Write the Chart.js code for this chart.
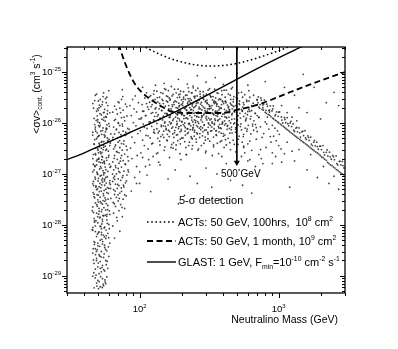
<!DOCTYPE html>
<html>
<head>
<meta charset="utf-8">
<script src="https://cdn.jsdelivr.net/npm/chart.js@4.4.1/dist/chart.umd.min.js"></script>
<style>
  html, body { margin: 0; padding: 0; background: #fff; }
</style>
</head>
<body>
<canvas id="chart" width="398" height="349"></canvas>
<script>
// ---- axis ranges and tick decades ----
const massRange = [30, 3000];          // GeV
const sigmaRange = [4.6e-30, 3.1e-25]; // cm^3 s^-1
const xTickDecades = [2, 3];
const yTickDecades = [-29, -28, -27, -26, -25];

// ---- sensitivity curves ----
const glastMass  = [30, 40, 85, 179, 336, 735, 1480];
const glastSigma = [1.9e-27, 2.6e-27, 6.5e-27, 1.64e-26, 4.05e-26, 1.25e-25, 3.2e-25];

const actMonthMass  = [70.5, 72, 78, 87.5, 96.7, 114, 144, 173, 230, 378, 502, 735, 1172, 2060, 3000];
const actMonthSigma = [3.5e-25, 2.96e-25, 1.57e-25, 7.6e-26, 4.9e-26, 3.2e-26, 2.1e-26, 1.64e-26,
                       1.57e-26, 1.57e-26, 1.8e-26, 2.36e-26, 3.9e-26, 7.0e-26, 1.0e-25];

const act100Mass  = [104, 112, 144, 179, 258, 320, 425, 554, 735, 944, 1172, 1300];
const act100Sigma = [3.4e-25, 3.0e-25, 2.15e-25, 1.72e-25, 1.37e-25, 1.31e-25, 1.37e-25,
                     1.57e-25, 1.97e-25, 2.47e-25, 3.1e-25, 3.6e-25];

// 500 GeV marker arrow
const arrowMass  = [500, 500];
const arrowSigma = [3.5e-25, 1.68e-27];

// ---- scan points [mass GeV, <sigma v> cm^3/s], estimated from the scatter ----
const lowMassBand = [
  [47,5.8e-30],[52,6.1e-30],[55,6.4e-30],[49,7.2e-30],[57,7.0e-30],[50,8.1e-30],[54,8.8e-30],[58,9.5e-30],
  [46,9.9e-30],[51,1.1e-29],[53,1.2e-29],[56,1.25e-29],[48,1.35e-29],[59,1.4e-29],[50,1.5e-29],[54,1.6e-29],
  [47,1.75e-29],[52,1.9e-29],[57,2.0e-29],[49,2.2e-29],[55,2.3e-29],[60,2.4e-29],[51,2.6e-29],[46,2.8e-29],
  [53,3.0e-29],[58,3.1e-29],[48,3.4e-29],[56,3.6e-29],[50,3.9e-29],[54,4.2e-29],[61,4.4e-29],[47,4.7e-29],
  [52,5.0e-29],[57,5.4e-29],[49,5.9e-29],[55,6.3e-29],[59,6.8e-29],[51,7.3e-29],[46,7.8e-29],[53,8.4e-29],
  [56,9.0e-29],[48,9.6e-29],[60,1.02e-28],[50,1.1e-28],[54,1.17e-28],[58,1.25e-28],[47,1.33e-28],[52,1.42e-28],
  [55,1.5e-28],[61,1.6e-28],[49,1.7e-28],[53,1.82e-28],[57,1.95e-28],[51,2.1e-28],[46,2.25e-28],[59,2.4e-28],
  [54,2.55e-28],[48,2.7e-28],[56,2.9e-28],[50,3.1e-28],[62,3.3e-28],[52,3.5e-28],[55,3.75e-28],[47,4.0e-28],
  [58,4.3e-28],[53,4.6e-28],[49,4.9e-28],[60,5.2e-28],[51,5.6e-28],[56,6.0e-28],[46,6.4e-28],[54,6.9e-28],
  [61,7.4e-28],[48,7.9e-28],[57,8.5e-28],[52,9.1e-28],[50,9.8e-28],[55,1.05e-27],[59,1.12e-27],[47,1.2e-27],
  [53,1.3e-27],[62,1.4e-27],[49,1.5e-27],[56,1.6e-27],[51,1.72e-27],[58,1.85e-27],[46,2.0e-27],[54,2.15e-27],
  [60,2.3e-27],[48,2.5e-27],[52,2.7e-27],[57,2.9e-27],[50,3.1e-27],[55,3.35e-27],[61,3.6e-27],[47,3.9e-27],
  [53,4.2e-27],[59,4.5e-27],[49,4.9e-27],[56,5.3e-27],[51,5.7e-27],[62,6.1e-27],[46,6.6e-27],[54,7.1e-27],
  [58,7.7e-27],[48,8.3e-27],[52,9.0e-27],[60,9.7e-27],[50,1.05e-26],[55,1.14e-26],[47,1.23e-26],[57,1.33e-26],
  [53,1.45e-26],[61,1.58e-26],[49,1.7e-26],[56,1.85e-26],[51,2.0e-26],[59,2.2e-26],[46,2.4e-26],[54,2.6e-26],
  [52,2.9e-26],[58,3.2e-26],[48,3.5e-26],[55,3.9e-26],[60,4.3e-26],
  [50.5,5.6e-30],[56.5,7.6e-30],[48.5,1.03e-29],[53.5,1.45e-29],[57.5,1.65e-29],[46.5,2.05e-29],[51.5,2.45e-29],
  [55.5,2.7e-29],[49.5,3.25e-29],[59.5,3.7e-29],[47.5,4.5e-29],[53.5,5.2e-29],[57.5,6.1e-29],[50.5,7.0e-29],
  [45.5,8.1e-29],[55.5,8.7e-29],[52.5,9.3e-29],[58.5,1.07e-28],[48.5,1.21e-28],[51.5,1.37e-28],[56.5,1.55e-28],
  [46.5,1.75e-28],[60.5,1.88e-28],[53.5,2.0e-28],[49.5,2.32e-28],[57.5,2.62e-28],[54.5,3.0e-28],[47.5,3.4e-28],
  [50.5,3.85e-28],[59.5,4.15e-28],[55.5,4.75e-28],[52.5,5.4e-28],[48.5,5.8e-28],[61.5,6.2e-28],[57.5,6.6e-28],
  [46.5,7.1e-28],[53.5,7.6e-28],[50.5,8.2e-28],[58.5,8.8e-28],[49.5,1.0e-27],[54.5,1.16e-27],[51.5,1.25e-27],
  [56.5,1.36e-27],[47.5,1.45e-27],[60.5,1.55e-27],[52.5,1.66e-27],[55.5,1.78e-27],[49.5,1.92e-27],[57.5,2.07e-27],
  [53.5,2.22e-27],[46.5,2.4e-27],[50.5,2.6e-27],[59.5,2.8e-27],[54.5,3.0e-27],[48.5,3.25e-27],[56.5,3.5e-27],
  [51.5,3.75e-27],[61.5,4.05e-27],[53.5,4.35e-27],[47.5,4.7e-27],[58.5,5.1e-27],[50.5,5.5e-27],[55.5,5.9e-27],
  [49.5,6.4e-27],[52.5,6.9e-27],[57.5,7.4e-27],[54.5,8.0e-27],[60.5,8.6e-27],[47.5,9.3e-27],[51.5,1.0e-26],
  [56.5,1.09e-26],[53.5,1.19e-26],[49.5,1.38e-26],[58.5,1.5e-26],[55.5,1.62e-26],[50.5,1.77e-26],[52.5,2.1e-26],
  [57.5,2.5e-26],[47.5,2.75e-26],[54.5,3.3e-26],
  [49.2,6.3e-30],[53.8,5.9e-30],[51.1,7.7e-30],[56.2,8.3e-30],[47.9,9.1e-30],[54.6,6.9e-30],[52.4,9.6e-30],
  [46.8,1.15e-29],[55.1,1.32e-29],[50.3,1.78e-29],[58.4,1.93e-29],[48.1,2.6e-29],[52.7,2.35e-29],[56.9,3.3e-29],
  [51.6,3.8e-29],[47.2,4.1e-29],[54.2,4.7e-29],[59.8,5.6e-29],[49.6,6.6e-29],[53.1,7.1e-29],[57.3,7.9e-29],
  [46.1,8.9e-29],[51.9,9.4e-29],[55.7,5.8e-29],[48.8,3.0e-29],[60.4,8.4e-29],[50.1,4.4e-29],
  [47.4,1.13e-28],[53.9,1.28e-28],[57.9,1.47e-28],[50.8,1.62e-28],[45.6,1.9e-28],[55.3,2.18e-28],[49.1,2.5e-28],
  [52.1,2.85e-28],[59.2,3.2e-28],[46.9,3.6e-28],[54.8,4.1e-28],[51.3,4.5e-28],[57.1,5.0e-28],[48.4,5.5e-28],
  [53.3,6.1e-28],[60.8,6.7e-28],[50.2,7.3e-28],[55.9,7.9e-28],[47.7,8.6e-28],[52.9,9.4e-28],[58.8,2.0e-28],
  [46.2,4.3e-28],[56.3,3.4e-28],[49.9,1.45e-28],[61.7,5.2e-28],[51.7,6.5e-28],[54.1,8.2e-28],
  [49.3,1.08e-27],[57.2,1.21e-27],[52.3,1.39e-27],[46.4,1.55e-27],[55.6,1.71e-27],[50.7,1.95e-27],[59.6,2.12e-27],
  [48.2,2.38e-27],[53.6,2.66e-27],[57.8,3.05e-27],[51.2,3.4e-27],[47.1,3.8e-27],[55.2,4.3e-27],[60.2,4.8e-27],
  [49.8,5.3e-27],[53.2,6.0e-27],[56.7,6.7e-27],[47.9,7.6e-27],[51.4,8.4e-27],[58.1,9.2e-27],[54.3,1.65e-27],
  [50.1,2.9e-27],[61.1,1.35e-27],[45.9,5.8e-27],
  [48.7,1.12e-26],[55.4,1.29e-26],[51.8,1.52e-26],[58.7,1.74e-26],[46.6,1.95e-26],[53.7,2.3e-26],[50.4,2.7e-26],
  [56.8,3.0e-26],[49.0,3.7e-26],
  [47.3,1.2e-28],[52.8,2.7e-28],[49.7,5.1e-28],[56.1,1.05e-27],[50.9,2.05e-27],[54.7,3.7e-27],[48.3,6.9e-27],
  [57.6,1.3e-26],[51.3,2.25e-26],[46.3,3.4e-29],[53.2,6.4e-29],[58.2,1.6e-28],[49.4,3.9e-28],[55.8,7.3e-28],
  [47.8,1.4e-27],[52.6,2.5e-27],[59.1,4.4e-27],[50.6,8.9e-27],[54.9,1.6e-26],[48.9,2.0e-29],[53.4,1.04e-28],
  [51.0,1.85e-28],[57.0,3.1e-28],[46.7,5.9e-28],[55.0,9.6e-28],[49.0,1.8e-27],[53.0,3.2e-27],[56.4,5.6e-27],
  [50.0,1.16e-26],[52.0,1.4e-29],[55.9,4.0e-29],[48.0,7.4e-29],[54.4,1.53e-28],[50.4,2.8e-28],[58.6,5.4e-28],
  [46.0,1.1e-27],[53.4,1.9e-27],[51.0,4.0e-27],[57.4,7.9e-27],[49.7,1.9e-26]
];

const secondBand = [
  [66,5.5e-29],[72,7.5e-29],[64,9.5e-29],[69,1.2e-28],[75,1.45e-28],[65,1.7e-28],[71,1.9e-28],[78,2.1e-28],
  [67,2.3e-28],[73,2.5e-28],[64.5,2.75e-28],[70,2.95e-28],[76,3.2e-28],[68,3.45e-28],[80,3.7e-28],[66,3.95e-28],
  [72,4.2e-28],[74,4.55e-28],[65,4.9e-28],[69,5.2e-28],[77,5.55e-28],[71,5.9e-28],[67,6.3e-28],[79,6.7e-28],
  [64,7.1e-28],[73,7.5e-28],[70,8.0e-28],[75,8.5e-28],[66,9.0e-28],[81,9.5e-28],[68,1.0e-27],[72,1.07e-27],
  [77,1.13e-27],[65,1.2e-27],[70,1.28e-27],[74,1.36e-27],[67,1.45e-27],[79,1.53e-27],[71,1.62e-27],[64,1.72e-27],
  [76,1.82e-27],[69,1.93e-27],[73,2.05e-27],[82,2.18e-27],[66,2.3e-27],[78,2.45e-27],[71,2.6e-27],[68,2.75e-27],
  [75,2.92e-27],[65,3.1e-27],[72,3.3e-27],[80,3.5e-27],[67,3.7e-27],[74,3.95e-27],[70,4.2e-27],[77,4.45e-27],
  [64,4.7e-27],[69,5.0e-27],[73,5.35e-27],[79,5.7e-27],[66,6.1e-27],[71,6.5e-27],[76,6.9e-27],[68,7.35e-27],
  [82,7.8e-27],[65,8.3e-27],[72,8.9e-27],[75,9.5e-27],[70,1.02e-26],[78,1.1e-26],[67,1.18e-26],[74,1.27e-26],
  [81,1.37e-26],[69,1.5e-26],[64,1.63e-26],[76,1.78e-26],[72,1.95e-26],[66,2.15e-26],[79,2.35e-26],[70,2.6e-26],
  [74,2.9e-26],
  [68.4,1.4e-28],[74.6,2.2e-28],[65.8,2.6e-28],[71.3,3.3e-28],[77.9,3.9e-28],[66.7,4.6e-28],[73.8,5.3e-28],
  [69.5,6.2e-28],[80.3,7.3e-28],[64.9,8.4e-28],[75.9,9.3e-28],[70.8,1.12e-27],[67.3,1.33e-27],[78.6,1.57e-27],
  [72.6,1.78e-27],[65.4,2.02e-27],[74.1,2.3e-27],[69.1,2.68e-27],[81.2,2.95e-27],[66.3,3.4e-27],[76.8,3.85e-27],
  [71.7,4.5e-27],[64.2,5.2e-27],[73.2,5.9e-27],[79.4,6.6e-27],[68.1,7.6e-27],[75.3,8.7e-27],[70.4,9.8e-27],
  [65.7,1.12e-26],[77.2,1.3e-26],[72.9,1.6e-26],[67.8,1.85e-26],[80.8,2.1e-26],[71.1,2.5e-26],[75.6,3.3e-26],
  [63.8,1.0e-27],[82.5,1.2e-27],[69.9,3.9e-28],[76.4,6.0e-28],[66.1,7.8e-28]
];

const mainCloud = [
  [86,3.2e-27],[92,4.1e-27],[88,5.3e-27],[97,6.2e-27],[84,7.5e-27],[94,8.8e-27],[90,1.02e-26],[99,1.2e-26],
  [87,1.4e-26],[95,1.65e-26],[91,1.9e-26],[85,2.2e-26],[98,2.5e-26],[89,2.9e-26],[93,3.4e-26],[96,2.3e-27],[83,1.8e-27],
  [102,2.6e-27],[115,3.1e-27],[108,3.6e-27],[124,4.0e-27],[105,4.6e-27],[119,5.1e-27],[111,5.7e-27],[128,6.3e-27],
  [101,7.0e-27],[113,7.8e-27],[122,8.6e-27],[106,9.5e-27],[117,1.05e-26],[126,1.15e-26],[103,1.27e-26],[110,1.4e-26],
  [121,1.55e-26],[107,1.7e-26],[129,1.88e-26],[114,2.07e-26],[104,2.3e-26],[118,2.55e-26],[125,2.8e-26],[109,3.1e-26],
  [120,3.45e-26],[112,3.9e-26],[127,4.3e-26],[116,1.9e-27],
  [132,2.5e-27],[150,2.9e-27],[168,3.3e-27],[140,3.7e-27],[175,4.1e-27],[158,4.5e-27],[135,5.0e-27],[163,5.4e-27],
  [146,5.9e-27],[178,6.4e-27],[138,6.9e-27],[155,7.4e-27],[170,7.9e-27],[143,8.5e-27],[160,9.1e-27],[133,9.8e-27],
  [152,1.05e-26],[173,1.12e-26],[141,1.2e-26],[165,1.28e-26],[148,1.36e-26],[136,1.45e-26],[157,1.55e-26],[176,1.65e-26],
  [144,1.76e-26],[162,1.88e-26],[131,2.0e-26],[153,2.13e-26],[171,2.27e-26],[139,2.42e-26],[159,2.58e-26],[147,2.75e-26],
  [166,2.95e-26],[134,3.15e-26],[156,3.4e-26],[174,3.65e-26],[142,3.95e-26],[161,4.3e-26],[151,4.7e-26],[169,5.2e-26],
  [137,1.7e-27],[164,2.1e-27],
  [182,3.0e-27],[215,3.3e-27],[240,3.6e-27],[196,3.9e-27],[228,4.2e-27],[188,4.5e-27],[255,4.8e-27],[205,5.1e-27],
  [234,5.4e-27],[184,5.8e-27],[220,6.2e-27],[248,6.6e-27],[199,7.0e-27],[231,7.4e-27],[190,7.8e-27],[243,8.2e-27],
  [210,8.7e-27],[185,9.2e-27],[225,9.7e-27],[252,1.02e-26],[202,1.08e-26],[237,1.14e-26],[193,1.2e-26],[218,1.26e-26],
  [258,1.33e-26],[208,1.4e-26],[186,1.47e-26],[245,1.55e-26],[226,1.63e-26],[197,1.71e-26],[233,1.8e-26],[212,1.9e-26],
  [183,2.0e-26],[250,2.1e-26],[204,2.2e-26],[239,2.32e-26],[191,2.44e-26],[222,2.57e-26],[256,2.7e-26],[200,2.85e-26],
  [230,3.0e-26],[187,3.15e-26],[246,3.3e-26],[214,3.5e-26],[195,3.7e-26],[236,3.9e-26],[207,4.1e-26],[253,4.35e-26],
  [189,4.6e-26],[224,4.9e-26],[242,5.3e-26],[217,2.4e-27],[198,1.9e-27],
  [265,3.1e-27],[340,3.4e-27],[420,3.7e-27],[290,4.0e-27],[380,4.3e-27],[470,4.6e-27],[310,4.9e-27],[270,5.2e-27],
  [400,5.5e-27],[355,5.9e-27],[445,6.3e-27],[285,6.7e-27],[330,7.1e-27],[490,7.5e-27],[370,8.0e-27],[275,8.5e-27],
  [430,9.0e-27],[315,9.5e-27],[395,1.0e-26],[262,1.06e-26],[350,1.12e-26],[460,1.18e-26],[300,1.25e-26],[410,1.32e-26],
  [280,1.4e-26],[365,1.48e-26],[335,1.56e-26],[480,1.65e-26],[295,1.74e-26],[440,1.84e-26],[385,1.94e-26],[268,2.05e-26],
  [320,2.16e-26],[455,2.28e-26],[345,2.4e-26],[278,2.53e-26],[415,2.67e-26],[305,2.82e-26],[375,2.98e-26],[495,3.15e-26],
  [325,3.3e-26],[288,3.5e-26],[435,3.7e-26],[360,3.9e-26],[272,4.15e-26],[405,4.4e-26],[318,4.7e-26],[465,5.0e-26],
  [298,2.6e-27],[390,2.2e-27],[260,6.1e-27],[345,9.8e-27],[425,1.6e-26],[308,1.9e-26],[475,2.1e-26],[352,2.6e-26],
  [510,3.8e-27],[620,4.4e-27],[760,5.2e-27],[560,6.0e-27],[700,6.8e-27],[850,7.6e-27],[530,8.5e-27],[650,9.5e-27],
  [800,1.05e-26],[580,1.16e-26],[720,1.28e-26],[505,1.4e-26],[680,1.54e-26],[600,1.68e-26],[540,1.84e-26],[770,2.0e-26],
  [640,2.2e-26],[520,2.4e-26],[590,2.65e-26],[700,2.9e-26],[550,3.2e-26],[660,3.5e-26],[515,3.9e-26],[610,4.3e-26],
  [740,3.0e-27],[880,4.2e-27],[570,2.6e-27],[830,1.3e-26],[900,9.0e-27],
  [950,2.2e-27],[1000,3.6e-27],[920,5.5e-27],[980,7.0e-27],[860,1.8e-26]
];

const cloudCore = [
  [133,4.2e-26],[178,4.6e-26],[226,4.1e-26],[262,4.8e-26],[311,4.4e-26],[389,4.3e-26],[457,4.7e-26],[540,4.0e-26],
  [118,3.3e-26],[147,3.8e-26],[163,3.1e-26],[191,3.6e-26],[207,3.2e-26],[238,3.9e-26],[259,3.4e-26],[284,3.1e-26],
  [302,3.7e-26],[337,3.3e-26],[366,3.8e-26],[412,3.2e-26],[448,3.5e-26],[505,3.0e-26],[570,3.6e-26],
  [112,2.4e-26],[129,2.9e-26],[141,2.2e-26],[156,2.7e-26],[172,2.1e-26],[184,2.6e-26],[199,2.3e-26],[213,2.9e-26],
  [229,2.0e-26],[244,2.5e-26],[268,2.8e-26],[281,2.2e-26],[297,2.6e-26],[318,2.1e-26],[344,2.7e-26],[359,2.3e-26],
  [383,2.9e-26],[402,2.4e-26],[436,2.1e-26],[471,2.6e-26],[523,2.3e-26],[588,2.8e-26],[640,2.1e-26],
  [105,1.7e-26],[124,1.6e-26],[138,1.9e-26],[152,1.55e-26],[161,1.8e-26],[176,1.65e-26],[188,1.95e-26],[203,1.5e-26],
  [218,1.75e-26],[236,1.85e-26],[251,1.6e-26],[273,1.9e-26],[292,1.55e-26],[307,1.7e-26],[326,1.95e-26],[349,1.6e-26],
  [372,1.8e-26],[396,1.5e-26],[421,1.75e-26],[463,1.9e-26],[498,1.6e-26],[547,1.7e-26],[610,1.85e-26],[676,1.55e-26],
  [102,1.2e-26],[119,1.05e-26],[134,1.35e-26],[146,1.15e-26],[158,1.45e-26],[169,1.0e-26],[181,1.3e-26],[194,1.1e-26],
  [209,1.4e-26],[222,1.2e-26],[241,1.05e-26],[257,1.35e-26],[276,1.15e-26],[289,1.45e-26],[313,1.25e-26],[331,1.05e-26],
  [354,1.4e-26],[377,1.2e-26],[408,1.1e-26],[439,1.3e-26],[482,1.0e-26],[531,1.25e-26],[596,1.45e-26],[663,1.1e-26],[721,1.3e-26],
  [108,8.2e-27],[127,7.4e-27],[143,9.1e-27],[155,7.8e-27],[167,9.6e-27],[179,7.1e-27],[192,8.5e-27],[206,9.3e-27],
  [219,7.6e-27],[233,8.8e-27],[248,7.2e-27],[266,9.8e-27],[283,8.0e-27],[301,7.3e-27],[322,9.0e-27],[343,7.7e-27],
  [368,8.6e-27],[391,9.5e-27],[426,7.5e-27],[458,8.3e-27],[512,9.2e-27],[574,7.9e-27],[649,8.7e-27],
  [115,5.6e-27],[136,6.4e-27],[149,5.2e-27],[164,6.8e-27],[187,5.9e-27],[201,5.1e-27],[224,6.5e-27],[247,5.5e-27],
  [271,6.2e-27],[296,5.3e-27],[324,6.9e-27],[357,5.7e-27],[386,6.3e-27],[432,5.0e-27],[489,6.6e-27],[556,5.4e-27],[631,6.1e-27],
  [122,3.9e-27],[157,4.6e-27],[183,3.7e-27],[211,4.3e-27],[239,4.9e-27],[278,3.6e-27],[319,4.4e-27],[362,4.0e-27],
  [414,4.7e-27],[479,3.8e-27],[547,4.2e-27],
  [135,2.6e-27],[174,3.2e-27],[216,2.4e-27],[262,2.9e-27],[333,2.3e-27],[405,3.3e-27],[492,2.7e-27],
  [154,4.5e-26],[197,4.2e-26],[243,4.9e-26],[286,4.1e-26],[346,4.6e-26],[420,4.4e-26],
  [126,3.7e-26],[139,3.2e-26],[171,3.4e-26],[183,3.9e-26],[219,3.5e-26],[249,3.1e-26],[272,3.7e-26],[321,3.5e-26],
  [352,3.1e-26],[391,3.6e-26],[476,3.3e-26],[620,3.2e-26],
  [121,2.1e-26],[135,2.6e-26],[148,2.4e-26],[165,2.8e-26],[177,2.3e-26],[192,2.1e-26],[205,2.6e-26],[221,2.4e-26],
  [235,2.8e-26],[254,2.2e-26],[263,2.5e-26],[289,2.9e-26],[306,2.4e-26],[331,2.2e-26],[351,2.5e-26],[371,2.1e-26],
  [393,2.7e-26],[418,2.5e-26],[452,2.9e-26],[489,2.2e-26],[557,2.5e-26],[611,2.7e-26],
  [116,1.85e-26],[131,1.6e-26],[144,1.75e-26],[157,1.5e-26],[168,1.9e-26],[182,1.55e-26],[195,1.7e-26],[210,1.95e-26],
  [226,1.6e-26],[243,1.75e-26],[260,1.55e-26],[280,1.8e-26],[299,1.65e-26],[316,1.9e-26],[338,1.5e-26],[361,1.7e-26],
  [385,1.95e-26],[410,1.6e-26],[444,1.8e-26],[480,1.7e-26],[520,1.9e-26],[575,1.55e-26],[640,1.75e-26],
  [111,1.4e-26],[127,1.1e-26],[140,1.25e-26],[151,1.0e-26],[163,1.3e-26],[175,1.2e-26],[187,1.45e-26],[201,1.05e-26],
  [215,1.25e-26],[230,1.4e-26],[248,1.15e-26],[266,1.3e-26],[283,1.05e-26],[302,1.35e-26],[320,1.15e-26],[342,1.45e-26],
  [365,1.1e-26],[390,1.35e-26],[423,1.25e-26],[460,1.45e-26],[505,1.15e-26],[560,1.35e-26],[625,1.2e-26],[700,1.4e-26],
  [117,9.4e-27],[133,7.7e-27],[148,8.8e-27],[161,7.2e-27],[173,8.4e-27],[186,9.7e-27],[199,7.5e-27],[213,8.1e-27],
  [227,9.4e-27],[241,7.9e-27],[257,8.9e-27],[275,7.4e-27],[292,9.3e-27],[311,8.2e-27],[333,9.9e-27],[356,7.1e-27],
  [380,8.0e-27],[408,9.1e-27],[442,7.8e-27],[475,9.6e-27],[540,7.3e-27],[605,9.0e-27],[690,8.1e-27],
  [126,6.6e-27],[142,5.4e-27],[158,6.0e-27],[176,5.2e-27],[195,6.7e-27],[213,5.8e-27],[236,5.1e-27],[258,6.4e-27],
  [283,5.6e-27],[310,6.1e-27],[340,5.3e-27],[372,6.7e-27],[410,5.8e-27],[462,6.4e-27],[520,5.5e-27],[590,6.9e-27],
  [139,4.4e-27],[170,3.8e-27],[196,4.8e-27],[225,3.6e-27],[256,4.2e-27],[297,4.6e-27],[340,3.7e-27],[388,4.5e-27],
  [445,4.1e-27],[512,4.8e-27],[600,3.9e-27],
  [152,3.4e-27],[195,2.5e-27],[238,3.1e-27],[300,2.8e-27],[370,2.5e-27],[450,3.0e-27],[560,3.3e-27]
];

// densest part of the cloud, a further pass
const cloudDense = [
  [123,2.3e-26],[137,1.15e-26],[145,2.9e-26],[153,8.6e-27],[162,2.2e-26],[166,1.4e-26],[173,6.1e-27],[180,2.7e-26],
  [185,1.08e-26],[190,1.7e-26],[194,3.2e-26],[198,8.9e-27],[203,2.4e-26],[208,1.22e-26],[212,6.9e-27],[216,2.05e-26],
  [220,1.5e-26],[223,3.0e-26],[228,9.8e-27],[232,2.5e-26],[237,1.28e-26],[240,7.3e-27],[245,2.0e-26],[250,3.35e-26],
  [253,1.1e-26],[258,2.6e-26],[264,1.65e-26],[269,7.9e-27],[274,2.35e-26],[279,1.27e-26],[285,3.1e-26],[290,9.0e-27],
  [294,1.95e-26],[299,2.7e-26],[304,1.15e-26],[309,6.6e-27],[314,2.3e-26],[319,1.55e-26],[325,3.25e-26],[330,8.3e-27],
  [336,1.8e-26],[341,2.55e-26],[347,1.2e-26],[353,7.0e-27],[358,2.15e-26],[363,1.35e-26],[370,2.85e-26],[376,9.4e-27],
  [382,1.6e-26],[388,2.3e-26],[394,1.05e-26],[400,6.2e-27],[407,1.85e-26],[413,2.65e-26],[419,1.3e-26],[427,8.6e-27],
  [434,2.0e-26],[441,1.1e-26],[449,2.45e-26],[456,7.4e-27],[464,1.55e-26],[472,2.9e-26],[481,1.2e-26],[490,8.1e-27],
  [500,2.1e-26],[510,1.4e-26],[522,2.7e-26],[535,9.6e-27],[548,1.75e-26],[562,2.3e-26],[578,1.1e-26],[594,7.6e-27],
  [612,2.0e-26],[632,1.35e-26],[655,2.45e-26],[680,9.3e-27],
  [128,1.35e-26],[142,2.1e-26],[149,6.9e-27],[159,3.3e-26],[164,1.05e-26],[170,1.75e-26],[176,2.55e-26],[182,8.2e-27],
  [188,1.25e-26],[193,2.2e-26],[200,1.45e-26],[206,2.95e-26],[211,1.0e-26],[217,1.8e-26],[222,7.7e-27],[227,2.7e-26],
  [234,1.6e-26],[239,2.15e-26],[244,9.2e-27],[249,1.4e-26],[256,2.4e-26],[261,8.4e-27],[267,1.9e-26],[273,3.3e-26],
  [281,1.35e-26],[287,2.05e-26],[293,7.2e-27],[300,1.6e-26],[306,2.5e-26],[312,1.0e-26],[318,1.9e-26],[327,1.2e-26],
  [334,2.85e-26],[344,9.3e-27],[350,1.7e-26],[359,2.4e-26],[367,1.15e-26],[378,1.95e-26],[386,7.8e-27],[397,2.6e-26],
  [406,1.5e-26],[416,9.7e-27],[428,2.25e-26],[438,1.6e-26],[451,1.0e-26],[466,2.2e-26],[484,1.75e-26],[503,9.2e-27],
  [526,1.55e-26],[552,2.05e-26],[585,1.25e-26],[620,1.7e-26]
];

// sharp lower edge of the high-mass band
const diagonalEdge = [
  [720,2.05e-26],[760,1.85e-26],[800,1.62e-26],[840,1.47e-26],[880,1.33e-26],[920,1.2e-26],[960,1.1e-26],[1000,1.0e-26],
  [1050,9.0e-27],[1100,8.2e-27],[1150,7.4e-27],[1200,6.7e-27],[1260,6.1e-27],[1320,5.5e-27],[1380,5.0e-27],[1450,4.5e-27],
  [1520,4.1e-27],[1600,3.7e-27],[1680,3.3e-27],[1760,3.0e-27],[1850,2.7e-27],[1940,2.45e-27],[2040,2.15e-27],[2140,1.95e-27],
  [2250,1.68e-27],[2360,1.5e-27],[2480,1.36e-27],[2600,1.22e-27],[2730,1.1e-27],[2860,1.0e-27],
  [730,1.95e-26],[775,1.78e-26],[815,1.55e-26],[860,1.42e-26],[905,1.25e-26],[945,1.14e-26],[985,1.05e-26],[1030,9.5e-27],
  [1080,8.6e-27],[1125,7.8e-27],[1180,7.1e-27],[1230,6.4e-27],[1290,5.8e-27],[1350,5.25e-27],[1420,4.75e-27],[1490,4.3e-27],
  [1560,3.9e-27],[1640,3.5e-27],[1720,3.15e-27],[1800,2.85e-27],[1900,2.58e-27],[1990,2.3e-27],[2090,2.08e-27],[2200,1.85e-27],
  [2300,1.6e-27],[2420,1.45e-27],[2540,1.3e-27],[2670,1.17e-27],[2800,1.05e-27],[2930,9.7e-28]
];

// diffuse upper part of the high-mass band
const diagonalSpread = [
  [700,2.8e-26],[715,3.25e-26],[735,2.3e-26],[750,2.8e-26],[770,2.25e-26],[790,2.8e-26],[810,1.76e-26],[830,2.13e-26],
  [850,1.74e-26],[870,2.17e-26],[895,1.72e-26],[915,2.16e-26],[940,1.38e-26],[965,1.65e-26],[990,1.35e-26],[1015,1.65e-26],
  [1045,1.31e-26],[1070,1.0e-26],[1100,1.28e-26],[1125,1.01e-26],[1150,1.27e-26],[1180,8.8e-27],[1210,1.0e-26],[1240,8.5e-27],
  [1270,9.6e-27],[1300,6.8e-27],[1330,7.9e-27],[1365,6.7e-27],[1400,8.0e-27],[1435,5.3e-27],[1470,6.7e-27],[1510,5.65e-27],
  [1545,7.05e-27],[1580,4.75e-27],[1620,5.6e-27],[1660,4.55e-27],[1700,5.3e-27],[1745,3.6e-27],[1790,4.2e-27],[1835,3.55e-27],
  [1880,4.2e-27],[1930,3.05e-27],[1980,3.5e-27],[2030,3.0e-27],[2085,3.6e-27],[2140,2.36e-27],[2200,2.66e-27],[2260,2.25e-27],
  [2320,2.67e-27],[2390,1.94e-27],[2450,2.3e-27],[2520,1.9e-27],[2590,2.26e-27],[2660,1.5e-27],[2730,1.77e-27],[2800,1.5e-27],
  [2870,1.76e-27],[2950,1.31e-27],
  [710,2.5e-26],[745,3.1e-26],[780,2.36e-26],[820,2.34e-26],[860,1.64e-26],[905,1.88e-26],[950,1.46e-26],[1000,1.63e-26],
  [1055,1.14e-26],[1110,1.17e-26],[1165,9.7e-27],[1225,1.08e-26],[1285,7.2e-27],[1350,8.2e-27],[1420,6.4e-27],[1490,6.9e-27],
  [1560,5.1e-27],[1640,5.2e-27],[1720,3.85e-27],[1810,4.55e-27],[1900,3.45e-27],[2000,3.5e-27],[2110,2.65e-27],[2230,2.95e-27],
  [2350,2.17e-27],[2480,2.17e-27],[2620,1.6e-27],[2760,1.77e-27],[2900,1.46e-27]
];

const outliers = [
  [140,1.5e-27],[180,1.2e-27],[230,9e-28],[300,1.3e-27],[360,1.0e-27],[420,1.6e-27],[520,1.2e-27],[600,1.8e-27],
  [680,1.4e-27],[750,2.0e-27],[160,8e-28],[260,6.5e-28],[330,5.5e-28],[450,7.5e-28],[550,6.0e-28],[700,9e-28],
  [900,1.6e-27],[1100,2.5e-27],[1300,1.8e-27],[1600,1.2e-27],[1900,8.5e-28],[2300,6.5e-28],[2700,5.0e-28],[120,4.5e-28],
  [210,3.8e-28],[380,3.2e-28],[640,4.2e-28],[1200,5.5e-28],[190,2.6e-28],[95,6.5e-28],[100,1.1e-27],[110,1.4e-27],
  [125,2.2e-27],[1400,3.0e-27],[1700,2.4e-27],[2100,1.4e-27],[2500,9e-28],[1150,4.2e-27],[1250,2.8e-27],[1050,1.7e-27],
  [150,6e-26],[220,5.8e-26],[300,6.3e-26],[400,5.7e-26],[190,7.2e-26],[350,7.8e-26],[260,8.5e-26],[600,5.5e-26],
  [800,6.5e-26],[1100,5e-26],[1500,9e-26],[130,5.5e-26],[105,5.0e-26],[75,4.5e-26],[500,9.5e-26],
  [1300,3.5e-26],[1800,5e-26],[2200,2.5e-26],[2500,4e-26],[1600,1.6e-26],[2000,1.2e-26],[2700,2.2e-26],[1400,2.0e-26],
  [1150,1.6e-26],[1250,1.3e-26],[1050,2.2e-26],[1350,1.1e-26],
  [560,3.5e-27],[640,2.9e-27],[720,2.4e-27],[810,3.3e-27],[690,4.8e-27],[780,6.2e-27],[870,5.4e-27],[960,4.5e-27],
  [1040,3.1e-27],[620,1.9e-27],[770,1.6e-27],[900,2.6e-27],[540,2.2e-27],[820,9.6e-27],[740,8.4e-27],[660,7.2e-27],
  [940,7.9e-27],[1010,6.0e-27],
  [88,2.0e-27],[95,1.4e-27],[83,1.1e-27],[105,2.1e-27],[118,1.5e-27],[92,8.5e-28],[100,6.5e-28],[87,4.6e-28],[113,9.5e-28]
];

const FONT = '"Liberation Sans", Arial, Helvetica, sans-serif';

const toPoints = (xs, ys) => xs.map((x, i) => ({ x, y: ys[i] }));
const scanPoints = [...lowMassBand, ...secondBand, ...mainCloud, ...cloudCore, ...cloudDense,
                    ...diagonalEdge, ...diagonalSpread, ...outliers]
  .map(([m, s]) => ({ x: m, y: s }));

// draws text made of normal / sup / sub pieces, y is the baseline
function drawRich(ctx, parts, x, y, size, align) {
  const pieces = parts.map(p => {
    const kind = p[1] || 'n';
    const s = kind === 'n' ? size : size * 0.62;
    const dy = kind === 'sup' ? -size * 0.42 : kind === 'sub' ? size * 0.28 : 0;
    ctx.font = s + 'px ' + FONT;
    return { t: p[0], s, dy, w: ctx.measureText(p[0]).width };
  });
  const total = pieces.reduce((a, p) => a + p.w, 0);
  let cx = align === 'right' ? x - total : align === 'center' ? x - total / 2 : x;
  ctx.textAlign = 'left';
  ctx.textBaseline = 'alphabetic';
  for (const p of pieces) {
    ctx.font = p.s + 'px ' + FONT;
    ctx.fillText(p.t, cx, y + p.dy);
    cx += p.w;
  }
  return total;
}

const styles = {
  glast: { dash: [], width: 1.4 },
  month: { dash: [6, 3.5], width: 1.8 },
  hrs:   { dash: [1.6, 2.6], width: 1.5 }
};

const axisFrame = {
  id: 'axisFrame',
  afterDatasetsDraw(chart) {
    const { ctx, chartArea: a, scales: { x, y } } = chart;
    ctx.save();
    ctx.fillStyle = '#000';
    ctx.strokeStyle = '#000';

    // frame
    ctx.lineWidth = 1.3;
    ctx.strokeRect(a.left, a.top, a.right - a.left, a.bottom - a.top);

    // ticks: bottom/left outward, top/right inward
    ctx.lineWidth = 1;
    ctx.beginPath();
    for (let d = 1; d <= 3; d++) {
      for (let k = 1; k <= 9; k++) {
        const v = k * Math.pow(10, d);
        if (v < massRange[0] || v > massRange[1]) continue;
        const px = Math.round(x.getPixelForValue(v)) + 0.5;
        const len = k === 1 ? 5 : 3;
        ctx.moveTo(px, a.bottom); ctx.lineTo(px, a.bottom + len);
        ctx.moveTo(px, a.top); ctx.lineTo(px, a.top + len);
      }
    }
    for (let d = -30; d <= -25; d++) {
      for (let k = 1; k <= 9; k++) {
        const v = k * Math.pow(10, d);
        if (v < sigmaRange[0] || v > sigmaRange[1]) continue;
        const py = Math.round(y.getPixelForValue(v)) + 0.5;
        const len = k === 1 ? 5 : 3;
        ctx.moveTo(a.left, py); ctx.lineTo(a.left - len, py);
        ctx.moveTo(a.right, py); ctx.lineTo(a.right - len, py);
      }
    }
    ctx.stroke();

    // tick labels
    for (const d of xTickDecades) {
      const px = x.getPixelForValue(Math.pow(10, d));
      drawRich(ctx, [['10'], [String(d), 'sup']], px, 312, 9.5, 'center');
    }
    for (const d of yTickDecades) {
      const py = y.getPixelForValue(Math.pow(10, d));
      drawRich(ctx, [['10'], [String(d), 'sup']], 61, py + 3.4, 9.5, 'right');
    }

    // axis titles
    drawRich(ctx, [['Neutralino Mass (GeV)']], 338, 323, 10.5, 'right');
    ctx.save();
    ctx.translate(39.5, 94);
    ctx.rotate(-Math.PI / 2);
    drawRich(ctx, [['<\u03c3v>'], ['cont.', 'sub'], [' (cm'], ['3', 'sup'], [' s'], ['-1', 'sup'], [')']], 0, 0, 10.5, 'center');
    ctx.restore();

    // 500 GeV marker label
    drawRich(ctx, [['500 GeV']], x.getPixelForValue(arrowMass[0]) + 4, 177, 10, 'center');

    // legend
    drawRich(ctx, [['5-\u03c3 detection']], 179, 204, 11, 'left');
    const rows = [
      { yc: 222, st: styles.hrs, parts: [['ACTs: 50 GeV, 100hrs,  10'], ['8', 'sup'], [' cm'], ['2', 'sup']] },
      { yc: 241, st: styles.month, parts: [['ACTs: 50 GeV, 1 month, 10'], ['9', 'sup'], [' cm'], ['2', 'sup']] },
      { yc: 262, st: styles.glast, parts: [['GLAST: 1 GeV, F'], ['min', 'sub'], ['=10'], ['-10', 'sup'], [' cm'], ['-2', 'sup'], [' s'], ['-1', 'sup']] }
    ];
    for (const r of rows) {
      ctx.save();
      ctx.lineWidth = r.st.width;
      ctx.setLineDash(r.st.dash);
      ctx.beginPath();
      ctx.moveTo(147, r.yc);
      ctx.lineTo(176, r.yc);
      ctx.stroke();
      ctx.restore();
      drawRich(ctx, r.parts, 178, r.yc + 4, 11, 'left');
    }
    ctx.restore();
  }
};

const lineSet = (label, data, st, order) => ({
  label, data, order,
  showLine: true,
  borderColor: '#000',
  borderWidth: st.width,
  borderDash: st.dash,
  pointRadius: 0,
  cubicInterpolationMode: 'monotone',
  fill: false
});

new Chart(document.getElementById('chart'), {
  type: 'scatter',
  data: {
    datasets: [
      {
        label: 'scan',
        data: scanPoints,
        order: 10,
        pointRadius: 0.9,
        pointHoverRadius: 0,
        borderWidth: 0,
        backgroundColor: 'rgba(35,35,35,0.85)'
      },
      lineSet('GLAST', toPoints(glastMass, glastSigma), styles.glast, 1),
      lineSet('ACTs 1 month', toPoints(actMonthMass, actMonthSigma), styles.month, 2),
      lineSet('ACTs 100hrs', toPoints(act100Mass, act100Sigma), styles.hrs, 3),
      {
        label: '500 GeV',
        data: toPoints(arrowMass, arrowSigma),
        order: 0,
        showLine: true,
        borderColor: '#000',
        borderWidth: 1,
        pointStyle: 'triangle',
        rotation: 180,
        pointRadius: [0, 3.5],
        pointBackgroundColor: '#000',
        pointBorderWidth: 0
      }
    ]
  },
  options: {
    responsive: false,
    animation: false,
    devicePixelRatio: 1,
    layout: { padding: { left: 67, right: 53, top: 47, bottom: 56 } },
    plugins: { legend: { display: false }, tooltip: { enabled: false } },
    scales: {
      x: { type: 'logarithmic', min: massRange[0], max: massRange[1], display: false },
      y: { type: 'logarithmic', min: sigmaRange[0], max: sigmaRange[1], display: false }
    }
  },
  plugins: [axisFrame]
});
</script>
</body>
</html>
